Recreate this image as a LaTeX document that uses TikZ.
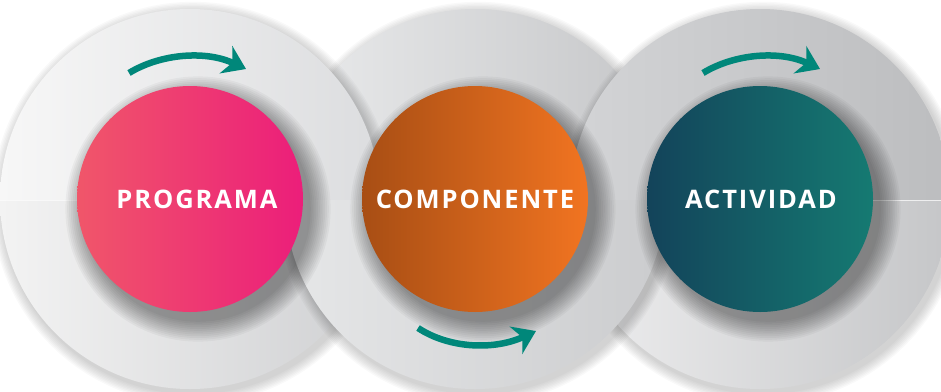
\documentclass[tikz,border=0pt]{standalone}
\usepackage{fontspec}
\setmainfont{Open Sans}
\usetikzlibrary{arrows.meta}
\definecolor{arrowc}{HTML}{00877A}
\definecolor{pinkL}{HTML}{F0566A}
\definecolor{pinkR}{HTML}{EC1E7A}
\definecolor{oranL}{HTML}{A84E14}
\definecolor{oranR}{HTML}{F17421}
\definecolor{tealL}{HTML}{13435A}
\definecolor{tealR}{HTML}{157A72}
\definecolor{aUL}{HTML}{F7F7F7}\definecolor{aUR}{HTML}{DCDDDF}
\definecolor{aLL}{HTML}{F3F3F3}\definecolor{aLR}{HTML}{CFD0D2}
\definecolor{bUL}{HTML}{EAEBEC}\definecolor{bUR}{HTML}{C5C6C8}
\definecolor{bLL}{HTML}{E6E7E8}\definecolor{bLR}{HTML}{CBCCCE}
\definecolor{cUL}{HTML}{D3D4D6}\definecolor{cUR}{HTML}{BCBDBF}
\definecolor{cLL}{HTML}{EEEEEF}\definecolor{cLR}{HTML}{C5C6C8}
% #1 cx, #2 ytop, #3 ybottom, #4 left colour, #5 right colour
\newcommand\bighalf[5]{%
  \begin{scope}
    \clip (#1-215,#2) rectangle (#1+215,#3);
    \foreach \k in {1,...,8}{\fill[black,opacity=0.022] (#1+3,203) circle ({190+\k*1.4});}
    \shade[left color=#4,right color=#5] (#1,199) circle (190);
  \end{scope}}
\newcommand\innershadow[1]{%
  \foreach \k in {1,...,12}{\fill[black,opacity=0.035] (#1+8,209) circle ({111+\k*1.8});}}
\tikzset{
  disc/.style={circle,minimum size=226pt,inner sep=0pt},
  lbl/.style={text=white,inner sep=0pt,
    font=\fontsize{25.5}{31}\selectfont\bfseries\addfontfeatures{LetterSpace=7.5}},
  cyclearrow/.style={arrowc,line width=6.5pt,
    -{Stealth[length=22pt,width=30pt,inset=7pt]}}
}
\begin{document}
\begin{tikzpicture}[x=1pt,y=-1pt]
\useasboundingbox (0,0) rectangle (941,391);
\clip (0,0) rectangle (941,391);
% upper halves: circle 2 under 1 and 3
\bighalf{475}{-20}{200}{bUL}{bUR}
\bighalf{190}{-20}{200}{aUL}{aUR}
\bighalf{760}{-20}{200}{cUL}{cUR}
% lower halves: circle 2 over 1 and 3
\bighalf{190}{200}{420}{aLL}{aLR}
\bighalf{760}{200}{420}{cLL}{cLR}
\bighalf{475}{200}{420}{bLL}{bLR}
% faint split lines
\draw[white,opacity=0.6,line width=0.8pt] (0,200) -- (77,200);
\draw[white,opacity=0.7,line width=0.8pt] (873,200) -- (941,200);
% inner circles
\innershadow{190}
\innershadow{475}
\innershadow{760}
\node[disc,left color=pinkL,right color=pinkR] (prog) at (190,199) {};
\node[disc,left color=oranL,right color=oranR] (comp) at (475,199) {};
\node[disc,left color=tealL,right color=tealR] (act) at (760,199) {};
\node[lbl] (progt) at (197,199) {PROGRAMA};
\node[lbl] (compt) at (475,199) {COMPONENTE};
\node[lbl] (actt) at (761,199) {ACTIVIDAD};
% arrows
\coordinate (a1s) at (129,73);  \coordinate (a1e) at (246,69);
\coordinate (a2s) at (418,328); \coordinate (a2e) at (536,331);
\coordinate (a3s) at (703,73);  \coordinate (a3e) at (820,69);
\draw[cyclearrow] (a1s) .. controls (160,54) and (205,50) .. (a1e);
\draw[cyclearrow] (a2s) .. controls (450,349) and (495,350) .. (a2e);
\draw[cyclearrow] (a3s) .. controls (734,54) and (779,50) .. (a3e);
\end{tikzpicture}
\end{document}
